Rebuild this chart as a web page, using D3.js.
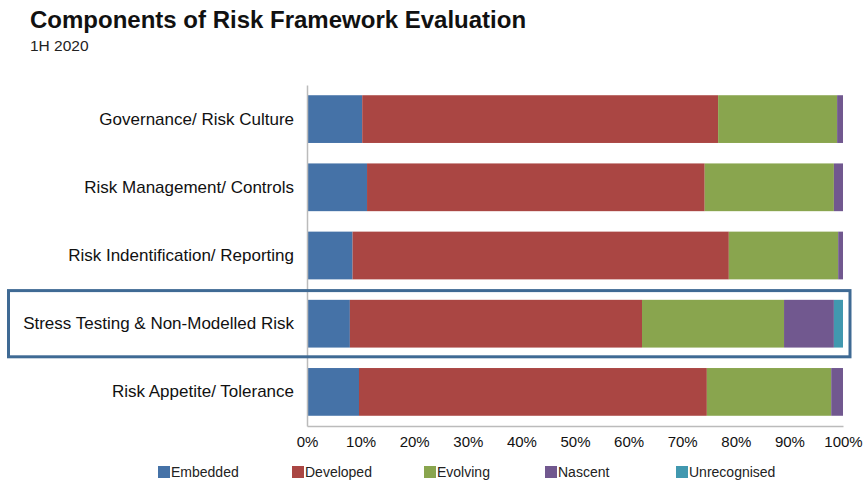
<!DOCTYPE html>
<html>
<head>
<meta charset="utf-8">
<script src="https://cdn.jsdelivr.net/npm/d3@7"></script>
<style>
  html, body { margin: 0; padding: 0; background: #fff; }
  svg { display: block; font-family: "Liberation Sans", Arial, sans-serif; }
</style>
</head>
<body>
<svg id="chart" width="867" height="485"></svg>
<script>
// Risk framework components, share of assessments by maturity level (%)
const categories = [
  "Governance/ Risk Culture",
  "Risk Management/ Controls",
  "Risk Indentification/ Reporting",
  "Stress Testing & Non-Modelled Risk",
  "Risk Appetite/ Tolerance"
];
const seriesNames = ["Embedded", "Developed", "Evolving", "Nascent", "Unrecognised"];
const embedded     = [10.3, 11.2,  8.5,  8.0,  9.7];
const developed    = [66.4, 63.0, 70.2, 54.5, 64.9];
const evolving     = [22.2, 24.1, 20.4, 26.5, 23.2];
const nascent      = [ 1.1,  1.7,  0.9,  9.3,  2.2];
const unrecognised = [ 0.0,  0.0,  0.0,  1.7,  0.0];
const colors = ["#4572a7", "#aa4643", "#89a54e", "#71588f", "#4198af"];
const highlighted = "Stress Testing & Non-Modelled Risk";
const tickValues = [0, 0.1, 0.2, 0.3, 0.4, 0.5, 0.6, 0.7, 0.8, 0.9, 1.0];

const svg = d3.select("#chart");
const margin = { left: 307, right: 24, top: 85, bottom: 59 };
const W = 867, H = 485;

// Build a table for the stack layout
const seriesValues = [embedded, developed, evolving, nascent, unrecognised];
const table = categories.map((c, i) => {
  const row = { category: c };
  const total = d3.sum(seriesValues, s => s[i]);
  seriesNames.forEach((n, k) => { row[n] = seriesValues[k][i] / total; });
  return row;
});
const stacked = d3.stack().keys(seriesNames)(table);

const x = d3.scaleLinear().domain([0, 1]).range([margin.left, W - margin.right]);
const y = d3.scaleBand().domain(categories)
  .range([margin.top, H - margin.bottom]).paddingInner(0.3).paddingOuter(0.15);

// Title and subtitle
svg.append("text").attr("x", 30).attr("y", 28)
  .attr("font-size", 24).attr("font-weight", "bold").attr("fill", "#111")
  .text("Components of Risk Framework Evaluation");
svg.append("text").attr("x", 30).attr("y", 51)
  .attr("font-size", 15.5).attr("fill", "#222").text("1H 2020");

// Stacked bars
svg.append("g").selectAll("g").data(stacked).join("g")
  .attr("fill", (d, i) => colors[i])
  .selectAll("rect").data(d => d).join("rect")
  .attr("x", d => x(d[0]))
  .attr("y", d => y(d.data.category))
  .attr("width", d => Math.max(0, x(d[1]) - x(d[0])))
  .attr("height", y.bandwidth());

// Axes
const xAxis = d3.axisBottom(x).tickValues(tickValues)
  .tickFormat(d3.format(".0%")).tickSize(0).tickPadding(10);
const gx = svg.append("g").attr("transform", `translate(0,${H - margin.bottom})`).call(xAxis);
gx.select(".domain").attr("stroke", "#bbb").attr("stroke-width", 1.5);
gx.selectAll("text").attr("font-size", 15).attr("fill", "#111")
  .attr("font-family", "Liberation Sans, Arial, sans-serif");

const yAxis = d3.axisLeft(y).tickSize(0).tickPadding(13);
const gy = svg.append("g").attr("transform", `translate(${margin.left},0)`).call(yAxis);
gy.select(".domain").attr("stroke", "#bbb").attr("stroke-width", 1.5);
gy.selectAll("text").attr("font-size", 17).attr("fill", "#111")
  .attr("font-family", "Liberation Sans, Arial, sans-serif");

// Highlight frame around the emphasised category
const yh = y(highlighted);
const pad = (y.step() - y.bandwidth()) / 2;
svg.append("rect")
  .attr("x", 8.5).attr("y", yh - pad + 1)
  .attr("width", x(1) + 7 - 8.5).attr("height", y.step() - 2)
  .attr("fill", "none").attr("stroke", "#3f6a94").attr("stroke-width", 3);

// Legend
const legendX = [158, 292, 424, 545, 676];
const lg = svg.append("g").selectAll("g").data(seriesNames).join("g")
  .attr("transform", (d, i) => `translate(${legendX[i]},466)`);
lg.append("rect").attr("width", 12).attr("height", 12).attr("fill", (d, i) => colors[i]);
lg.append("text").attr("x", 13).attr("y", 11).attr("font-size", 14)
  .attr("fill", "#222").text(d => d);
</script>
</body>
</html>
